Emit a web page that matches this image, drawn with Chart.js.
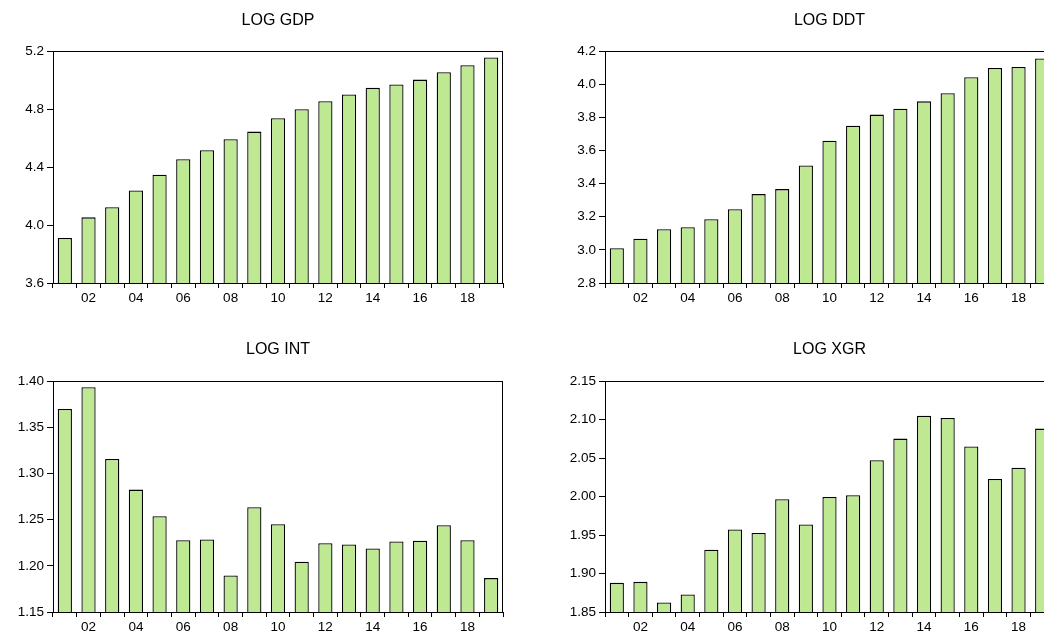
<!DOCTYPE html>
<html>
<head>
<meta charset="utf-8">
<script src="https://cdn.jsdelivr.net/npm/chart.js@4.4.1/dist/chart.umd.min.js"></script>
<style>
  html, body { margin: 0; padding: 0; overflow: hidden; background: #fff; width: 1044px; height: 631px; }
  canvas { position: absolute; }
</style>
</head>
<body>
<canvas id="c1" width="522" height="315" style="left:0px;top:0px;width:522px;height:315px"></canvas>
<canvas id="c2" width="560" height="315" style="left:522px;top:0px;width:560px;height:315px"></canvas>
<canvas id="c3" width="522" height="329" style="left:0px;top:315px;width:522px;height:329px"></canvas>
<canvas id="c4" width="560" height="329" style="left:522px;top:315px;width:560px;height:329px"></canvas>
<script>
// ---- data ----
const years = ['2001','2002','2003','2004','2005','2006','2007','2008','2009','2010',
               '2011','2012','2013','2014','2015','2016','2017','2018','2019'];
const xTickLabels = ['', '02', '', '04', '', '06', '', '08', '', '10',
                     '', '12', '', '14', '', '16', '', '18', ''];

const logGDP = [3.911, 4.053, 4.123, 4.238, 4.348, 4.454, 4.516, 4.592, 4.645, 4.737,
                4.799, 4.855, 4.901, 4.947, 4.970, 5.004, 5.055, 5.103, 5.156];
const logDDT = [3.010, 3.068, 3.125, 3.137, 3.185, 3.246, 3.337, 3.367, 3.510, 3.659,
                3.750, 3.817, 3.853, 3.897, 3.946, 4.043, 4.099, 4.105, 4.156];
const logINT = [1.370, 1.3935, 1.3157, 1.2826, 1.2537, 1.2278, 1.2285, 1.1896, 1.2635, 1.2451,
                1.2044, 1.2246, 1.2231, 1.2188, 1.2264, 1.2271, 1.2440, 1.2278, 1.1867];
const logXGR = [1.8879, 1.8892, 1.8625, 1.8728, 1.9310, 1.9573, 1.9526, 1.9966, 1.9638, 1.9996,
                2.0017, 2.0474, 2.0754, 2.1052, 2.1022, 2.0651, 2.0228, 2.0375, 2.0884];

const gdpTicks = [3.6, 4.0, 4.4, 4.8, 5.2];
const ddtTicks = [2.8, 3.0, 3.2, 3.4, 3.6, 3.8, 4.0, 4.2];
const intTicks = [1.15, 1.20, 1.25, 1.30, 1.35, 1.40];
const xgrTicks = [1.85, 1.90, 1.95, 2.00, 2.05, 2.10, 2.15];

// ---- styling ----
const FONT = "'Liberation Sans', Arial, sans-serif";
const BAR_FILL = 'rgb(190,232,145)';
const BAR_EDGE = '#000';

const framePlugin = {
  id: 'frame',
  afterDraw(chart) {
    const a = chart.chartArea, ctx = chart.ctx;
    ctx.save();
    ctx.strokeStyle = '#000';
    ctx.lineWidth = 1;
    ctx.strokeRect(Math.round(a.left) + 0.5, Math.round(a.top) + 0.5,
                   Math.round(a.right - a.left) - 1, Math.round(a.bottom - a.top));
    ctx.restore();
  }
};

function makeChart(id, title, values, ticks, decimals, cfg) {
  const ctx = document.getElementById(id);
  return new Chart(ctx, {
    type: 'bar',
    data: {
      labels: years,
      datasets: [{
        data: values,
        backgroundColor: BAR_FILL,
        borderColor: BAR_EDGE,
        borderWidth: 1.3,
        borderSkipped: 'bottom',
        categoryPercentage: 1.0,
        barPercentage: 0.6
      }]
    },
    plugins: [framePlugin],
    options: {
      responsive: false,
      animation: false,
      devicePixelRatio: 1,
      layout: { padding: { left: 0, right: cfg.padRight, top: 0, bottom: 0 } },
      plugins: {
        legend: { display: false },
        tooltip: { enabled: false },
        title: {
          display: true,
          text: title,
          fullSize: false,
          color: '#000',
          font: { family: FONT, size: 16, weight: 'normal', lineHeight: 1.2 },
          padding: { top: cfg.titleTop, bottom: cfg.titleBottom }
        }
      },
      scales: {
        x: {
          type: 'category',
          offset: true,
          grid: { display: true, offset: true, drawOnChartArea: false, drawTicks: true,
                  tickLength: 5, color: '#000', lineWidth: 1 },
          border: { display: true, color: '#000', width: 1 },
          ticks: {
            autoSkip: false, maxRotation: 0, minRotation: 0, padding: 2,
            color: '#000',
            font: { family: FONT, size: 13.5 },
            callback: (v, i) => xTickLabels[i]
          },
          afterFit: (s) => { s.height = cfg.xHeight; }
        },
        y: {
          min: ticks[0],
          max: ticks[ticks.length - 1],
          grid: { display: true, drawOnChartArea: false, drawTicks: true,
                  tickLength: 6, color: '#000', lineWidth: 1 },
          border: { display: true, color: '#000', width: 1 },
          afterBuildTicks: (s) => { s.ticks = ticks.map(v => ({ value: v })); },
          ticks: {
            padding: 3,
            color: '#000',
            font: { family: FONT, size: 13.5 },
            callback: (v) => Number(v).toFixed(decimals)
          },
          afterFit: (s) => { s.width = cfg.yWidth; }
        }
      }
    }
  });
}

makeChart('c1', 'LOG GDP', logGDP, gdpTicks, 1,
  { padRight: 19, titleTop: 11, titleBottom: 21, xHeight: 32, yWidth: 53 });
makeChart('c2', 'LOG DDT', logDDT, ddtTicks, 1,
  { padRight: 28, titleTop: 11, titleBottom: 21, xHeight: 32, yWidth: 83 });
makeChart('c3', 'LOG INT', logINT, intTicks, 2,
  { padRight: 19, titleTop: 25, titleBottom: 22, xHeight: 32, yWidth: 53 });
makeChart('c4', 'LOG XGR', logXGR, xgrTicks, 2,
  { padRight: 28, titleTop: 25, titleBottom: 22, xHeight: 32, yWidth: 83 });
</script>
</body>
</html>
